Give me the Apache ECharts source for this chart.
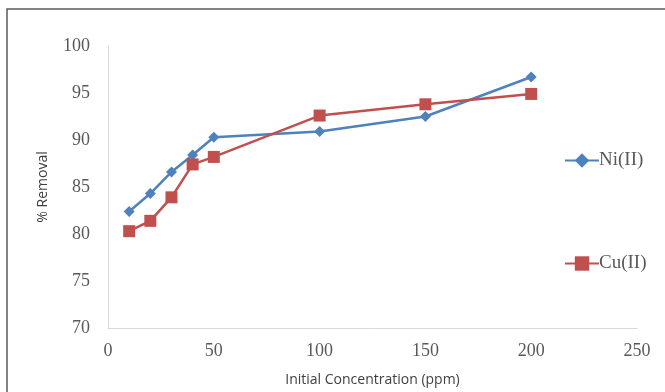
<!DOCTYPE html>
<html>
<head>
<meta charset="utf-8">
<script src="https://cdn.jsdelivr.net/npm/echarts@6/dist/echarts.min.js"></script>
<style>
  html, body { margin: 0; padding: 0; background: #fff; }
  #chart { width: 665px; height: 392px; }
</style>
</head>
<body>
<div id="chart"></div>
<script>
// Initial concentration (ppm)
const concentrations = [10, 20, 30, 40, 50, 100, 150, 200];
// % removal per metal ion
const niRemoval = [82.4, 84.3, 86.6, 88.4, 90.3, 90.9, 92.5, 96.7];
const cuRemoval = [80.3, 81.4, 83.9, 87.4, 88.2, 92.6, 93.8, 94.9];
const seriesNames = ['Ni(II)', 'Cu(II)'];

const pairs = (xs, ys) => xs.map((x, i) => [x, ys[i]]);

const chart = echarts.init(document.getElementById('chart'));
const tickFont = { fontFamily: 'Liberation Serif', fontSize: 18, color: '#595959' };
const titleFont = { fontFamily: 'Open Sans', fontSize: 14, color: '#404040' };
const legendText = { fontFamily: 'Liberation Serif', fontSize: 19, color: '#595959', padding: [0, 0, 0, -5] };

chart.setOption({
  animation: false,
  backgroundColor: '#fff',
  grid: { left: 108, right: 28, top: 46, bottom: 62 },
  graphic: [{
    type: 'rect',
    shape: { x: 7, y: 9, width: 700, height: 420 },
    style: { fill: 'none', stroke: '#5a5a5a', lineWidth: 1.5 }
  }],
  legend: [
    {
      data: [seriesNames[0]], orient: 'vertical', left: 559, top: 146,
      itemWidth: 34, itemHeight: 18, textStyle: legendText
    },
    {
      data: [seriesNames[1]], orient: 'vertical', left: 559, top: 249,
      itemWidth: 34, itemHeight: 18, textStyle: legendText
    }
  ],
  xAxis: {
    type: 'value', min: 0, max: 250, interval: 50,
    name: 'Initial Concentration (ppm)', nameLocation: 'middle', nameGap: 45,
    nameTextStyle: titleFont,
    axisLine: { lineStyle: { color: '#d9d9d9', width: 1 } },
    axisTick: { show: false },
    splitLine: { show: false },
    axisLabel: Object.assign({ margin: 14 }, tickFont)
  },
  yAxis: {
    type: 'value', min: 70, max: 100, interval: 5,
    name: '% Removal', nameLocation: 'middle', nameGap: 58,
    nameTextStyle: titleFont,
    axisLine: { show: true, lineStyle: { color: '#d9d9d9', width: 1 } },
    axisTick: { show: false },
    splitLine: { show: false },
    axisLabel: Object.assign({ margin: 18 }, tickFont)
  },
  series: [
    {
      name: seriesNames[0], type: 'line', data: pairs(concentrations, niRemoval),
      symbol: 'diamond', symbolSize: 11, color: '#4F81BD',
      lineStyle: { width: 2.5, color: '#4F81BD' },
      itemStyle: { color: '#4F81BD' }
    },
    {
      name: seriesNames[1], type: 'line', data: pairs(concentrations, cuRemoval),
      symbol: 'rect', symbolSize: 12, color: '#C0504D',
      lineStyle: { width: 2.5, color: '#C0504D' },
      itemStyle: { color: '#C0504D' }
    }
  ]
});
</script>
</body>
</html>
